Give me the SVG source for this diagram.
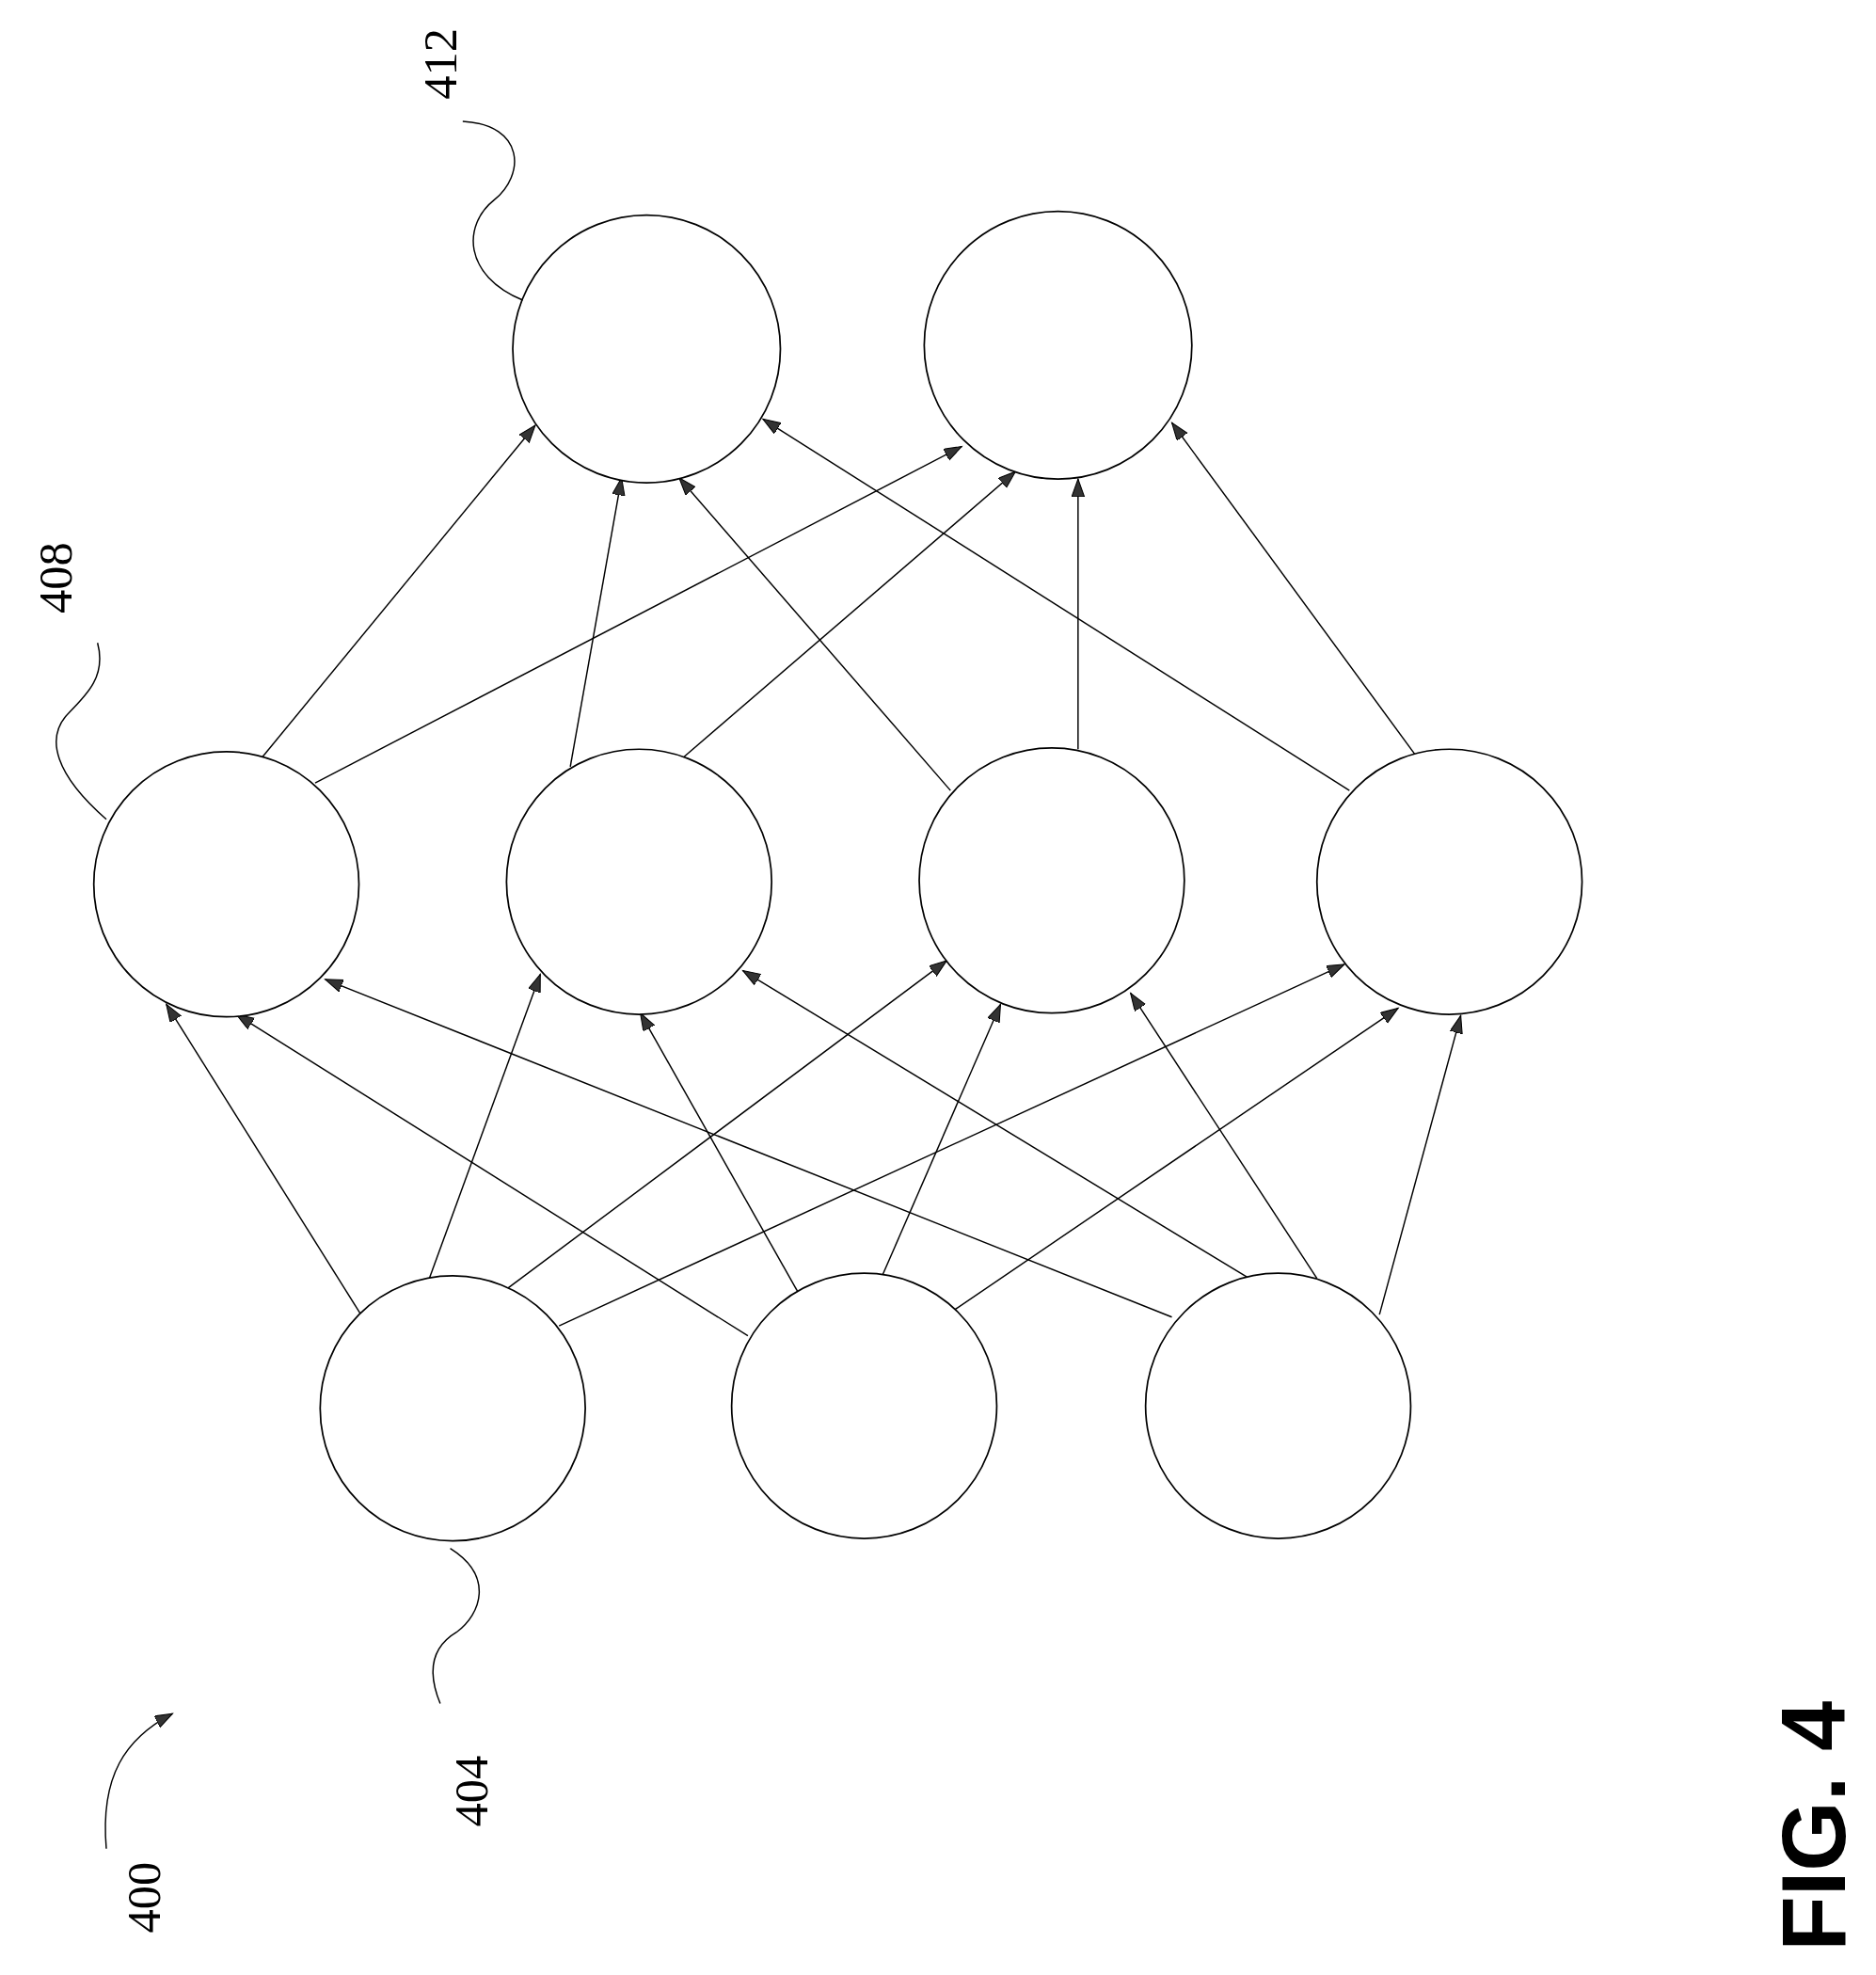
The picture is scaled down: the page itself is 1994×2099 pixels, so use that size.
<svg xmlns="http://www.w3.org/2000/svg" width="1994" height="2099" viewBox="0 0 1994 2099">
<style>
.n{fill:#fff;stroke:#000;stroke-width:1.3}
.e{fill:none;stroke:#000;stroke-width:1.1;marker-end:url(#ah)}
.l{fill:none;stroke:#000;stroke-width:1.1}
.t{font-family:"Liberation Serif",serif;font-size:38px;text-anchor:middle}
.f{font-family:"Liberation Sans",sans-serif;font-weight:bold;font-size:72px;text-anchor:middle}
</style>
<defs>
<marker id="ah" markerUnits="userSpaceOnUse" markerWidth="16" markerHeight="12" refX="14" refY="5" orient="auto">
<path d="M0,0 L14,5 L0,10 Z" fill="#333" stroke="#000" stroke-width="0.8"/>
</marker>
</defs>
<rect width="1994" height="2099" fill="#fff"/>
<g transform="scale(1.3293)">
<g id="connectors">
<path class="e" d="M288,1050 L133,803"/>
<path class="e" d="M343,1023 L432,779"/>
<path class="e" d="M406,1030 L757,768"/>
<path class="e" d="M447,1060 L1075,771"/>
<path class="e" d="M598,1068 L189,811"/>
<path class="e" d="M638,1033 L512,810"/>
<path class="e" d="M705,1021 L800,803"/>
<path class="e" d="M762,1048 L1118,806"/>
<path class="e" d="M937,1053 L260,783"/>
<path class="e" d="M997,1021 L594,776"/>
<path class="e" d="M1053,1022 L904,794"/>
<path class="e" d="M1103,1051 L1168,812"/>
<path class="e" d="M210,605 L428,340"/>
<path class="e" d="M252,626 L769,357"/>
<path class="e" d="M456,613 L497,382"/>
<path class="e" d="M547,605 L812,377"/>
<path class="e" d="M760,632 L543,382"/>
<path class="e" d="M862,599 L862,383"/>
<path class="e" d="M1079,632 L610,335"/>
<path class="e" d="M1132,604 L937,338"/>
</g>
<g id="o1"><circle class="n" cx="517" cy="279" r="107"/></g>
<g id="o2"><circle class="n" cx="846" cy="276" r="107"/></g>
<g id="h1"><circle class="n" cx="181" cy="707" r="106"/></g>
<g id="h2"><circle class="n" cx="511" cy="705" r="106"/></g>
<g id="h3"><circle class="n" cx="841" cy="704" r="106"/></g>
<g id="h4"><circle class="n" cx="1159" cy="705" r="106"/></g>
<g id="i1"><circle class="n" cx="362" cy="1126" r="106"/></g>
<g id="i2"><circle class="n" cx="691" cy="1124" r="106"/></g>
<g id="i3"><circle class="n" cx="1022" cy="1124" r="106"/></g>
<g id="labels">
<path class="l" d="M370,97 C420,100 420,140 395,160 C370,180 370,220 418,240"/>
<path class="l" d="M78,514 C85,540 70,555 55,570 C35,590 45,620 85,655"/>
<path class="l" d="M360,1238 C395,1260 385,1290 365,1305 C340,1320 345,1345 352,1362"/>
<path class="e" d="M85,1478 C80,1420 100,1390 138,1370"/>
<text class="t" transform="translate(365,51) rotate(-90)">412</text>
<text class="t" transform="translate(57,462) rotate(-90)">408</text>
<text class="t" transform="translate(390,1432) rotate(-90)">404</text>
<text class="t" transform="translate(128,1517) rotate(-90)">400</text>
<text class="f" transform="translate(1475,1460) rotate(-90)">FIG. 4</text>
</g>
</g>
</svg>
